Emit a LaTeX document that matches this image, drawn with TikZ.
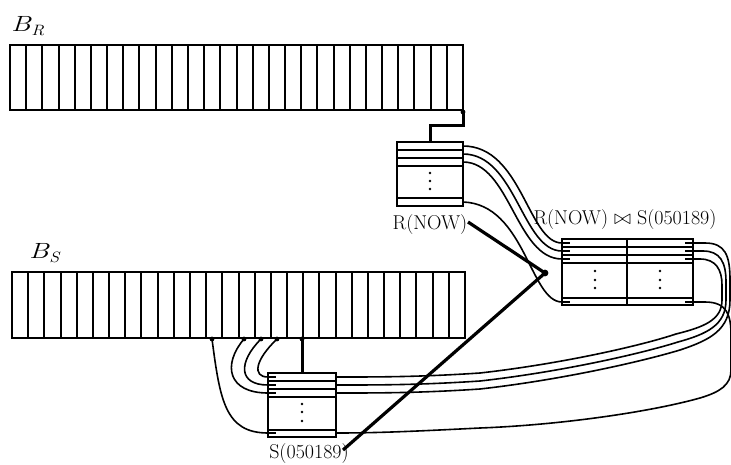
\documentclass[tikz,border=0pt]{standalone}
\usepackage{fontspec}
\newcommand{\bufname}[2]{\scalebox{1.3}[1]{\textit{#1}}\kern-0.5pt\raisebox{-0.2em}{\fontsize{15}{16}\selectfont\scalebox{1.2}[1]{\textit{#2}}}}
\newcommand{\rnow}{{\addfontfeatures{LetterSpace=7}R(NOW)}}
\begin{document}
\begin{tikzpicture}[x=1pt,y=-1pt,
  boxline/.style={line width=1.3pt},
  flow/.style={line width=1.6pt},
  pointer/.style={line width=3.2pt},
  lbl/.style={font=\fontsize{20}{22}\selectfont, inner sep=0pt, anchor=base},
  buflbl/.style={font=\fontsize{22}{24}\selectfont, inner sep=0pt, anchor=base west},
]
\useasboundingbox (0,0) rectangle (731,464);

% ---------- buffers ----------
\node[buflbl] (BRlab) at (11,31) {\bufname{B}{R}};
\draw[boxline] (10,45) rectangle (463,110);
\foreach \i in {1,...,27} \draw[boxline] ({round(10+\i*453/28)},45) -- ({round(10+\i*453/28)},110);

\node[buflbl] (BSlab) at (29,258) {\bufname{B}{S}};
\draw[boxline] (12,272) rectangle (465,338);
\foreach \i in {1,...,27} \draw[boxline] ({round(12+\i*453/28)},272) -- ({round(12+\i*453/28)},338);

% ---------- R(NOW) box ----------
\draw[boxline] (397,142) rectangle (463,206);
\foreach \y in {150,158,166,198} \draw[boxline] (397,\y) -- (463,\y);
\foreach \y in {173,181,189} \fill (430,\y) circle (1.3);
\node[lbl] (Rlab) at (430,229) {\rnow};

% ---------- join box ----------
\draw[boxline] (562,239) rectangle (693,305);
\foreach \y in {247,255,263,298} \draw[boxline] (562,\y) -- (693,\y);
\draw[boxline] (627,239) -- (627,305);
\foreach \y in {271,280,288} {\fill (595,\y) circle (1.3); \fill (660,\y) circle (1.3);}
\node[lbl] (Jlab) at (625,224) {\rnow\ $\bowtie$\ S(050189)};

% ---------- S(050189) box ----------
\draw[boxline] (268,373) rectangle (336,437);
\foreach \y in {381,389,397,430} \draw[boxline] (268,\y) -- (336,\y);
\foreach \y in {404,412,421} \fill (302,\y) circle (1.3);
\node[lbl] (Slab) at (309,458) {S(050189)};

% ---------- named points ----------
\coordinate (BRd) at (463,112);
\coordinate (Rt) at (430,142);
\coordinate (Rr1) at (463,146);
\coordinate (Rr2) at (463,154);
\coordinate (Rr3) at (463,162);
\coordinate (Rr4) at (463,202);
\coordinate (Jl1) at (562,243);
\coordinate (Jl2) at (562,251);
\coordinate (Jl3) at (562,259);
\coordinate (Jl4) at (562,302);
\coordinate (Jr1) at (693,243);
\coordinate (Jr2) at (693,251);
\coordinate (Jr3) at (693,259);
\coordinate (Jr4) at (693,302);
\coordinate (Sl1) at (268,377);
\coordinate (Sl2) at (268,385);
\coordinate (Sl3) at (268,393);
\coordinate (Sl4) at (268,433);
\coordinate (Sr1) at (336,377);
\coordinate (Sr2) at (336,385);
\coordinate (Sr3) at (336,393);
\coordinate (Sr4) at (336,433);
\coordinate (St) at (302,373);
\coordinate (bs1) at (212,339);
\coordinate (bs2) at (244,339);
\coordinate (bs3) at (261,339);
\coordinate (bs4) at (277,339);
\coordinate (bs5) at (302,339);
\coordinate (Rp) at (468,222);
\coordinate (Jp) at (545,273);
\coordinate (Sp) at (343,450);

% ---------- B_R -> R(NOW) ----------
\fill (BRd) circle (2.4);
\draw[line width=3pt] (BRd) -- (463,125) -- (430,125) -- (Rt);

% ---------- R(NOW) -> join ----------
\draw[flow] (Rr1) .. controls (522,146) and (528,243) .. (Jl1);
\draw[flow] (Rr2) .. controls (516,154) and (522,251) .. (Jl2);
\draw[flow] (Rr3) .. controls (510,162) and (516,259) .. (Jl3);
\draw[flow] (Rr4) .. controls (525,204) and (530,302) .. (Jl4);
\foreach \p in {Jl1,Jl2,Jl3,Jl4} \draw[flow] (\p) -- ++(8,0);
\foreach \p in {Jr1,Jr2,Jr3,Jr4} \draw[flow] (\p) -- ++(-8,0);

% ---------- join -> S(050189) loops ----------
\draw[flow] (Jr1) -- (705,243) .. controls (725,243) and (730,255) .. (730,280) -- (730,300)
  .. controls (730,330) and (710,340) .. (680,350)
  .. controls (640,362) and (560,380) .. (480,389)
  .. controls (420,393) and (380,393) .. (Sr3);
\draw[flow] (Jr2) -- (703,251) .. controls (720,251) and (726,262) .. (726,282) -- (726,300)
  .. controls (726,325) and (707,334) .. (678,342)
  .. controls (640,354) and (560,372) .. (480,381)
  .. controls (420,385) and (380,385) .. (Sr2);
\draw[flow] (Jr3) -- (700,259) .. controls (716,259) and (722,270) .. (722,285) -- (722,300)
  .. controls (722,320) and (704,327) .. (676,334)
  .. controls (640,346) and (560,364) .. (480,373)
  .. controls (420,377) and (380,377) .. (Sr1);
\draw[flow] (Jr4) -- (705,302) .. controls (727,302) and (731,315) .. (731,335) -- (731,370)
  .. controls (731,385) and (720,392) .. (700,398)
  .. controls (650,412) and (560,425) .. (480,428)
  .. controls (420,431) and (380,433) .. (Sr4);

% ---------- B_S -> S(050189) ----------
\foreach \p in {bs1,bs2,bs3,bs4,bs5} \fill (\p) circle (2.4);
\draw[line width=3pt] (bs5) -- (St);
\draw[flow] (bs4) .. controls (255,360) and (252,377) .. (Sl1);
\draw[flow] (bs3) .. controls (238,362) and (238,385) .. (Sl2);
\draw[flow] (bs2) .. controls (222,365) and (228,393) .. (Sl3);
\draw[flow] (bs1) .. controls (220,400) and (225,433) .. (Sl4);
\foreach \p in {Sl1,Sl2,Sl3,Sl4} \draw[flow] (\p) -- ++(8,0);

% ---------- label pointers ----------
\draw[pointer] (Rp) -- (Jp) -- (Sp);
\fill (Jp) circle (3.4);
\end{tikzpicture}
\end{document}
